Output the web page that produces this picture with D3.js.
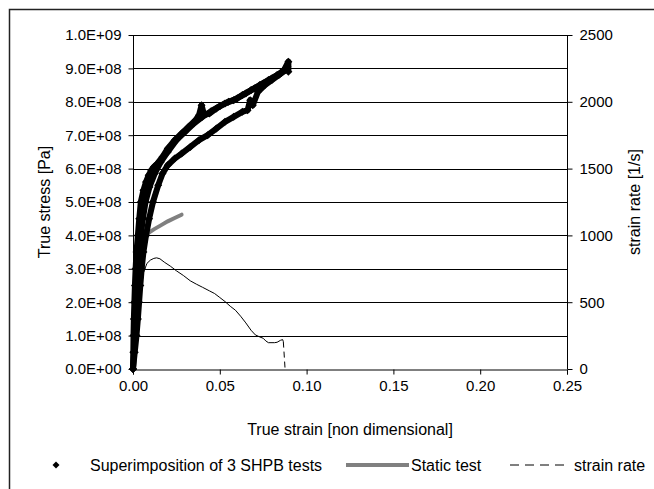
<!DOCTYPE html>
<html><head><meta charset="utf-8">
<script src="https://cdn.jsdelivr.net/npm/d3@7"></script>
<style>body{margin:0;background:#fff}svg{display:block;font-family:"Liberation Sans",Arial,sans-serif}</style>
</head><body><svg id="c" width="654" height="489"></svg>
<script>
// ---------- data ----------
const stressTicks = [0,1e8,2e8,3e8,4e8,5e8,6e8,7e8,8e8,9e8,1e9];
const stressTickLabels = ["0.0E+00","1.0E+08","2.0E+08","3.0E+08","4.0E+08","5.0E+08","6.0E+08","7.0E+08","8.0E+08","9.0E+08","1.0E+09"];
const rateTicks = [0,500,1000,1500,2000,2500];
const rateTickLabels = ["0","500","1000","1500","2000","2500"];
const strainTicks = [0,0.05,0.10,0.15,0.20,0.25];
const strainTickLabels = ["0.00","0.05","0.10","0.15","0.20","0.25"];

// SHPB test 1 (strain, stress Pa)
const shpb1 = [[0,0],[0.0002,0.5e8],[0.0003,1.0e8],[0.0005,1.5e8],[0.0008,2.0e8],[0.0011,2.5e8],[0.0015,3.0e8],[0.002,3.5e8],[0.0028,4.0e8],[0.0036,4.5e8],[0.0045,5.0e8],[0.006,5.35e8],[0.0075,5.6e8],[0.009,5.8e8],[0.0105,5.95e8],[0.012,6.05e8],[0.014,6.15e8],[0.017,6.35e8],[0.02,6.6e8],[0.024,6.85e8],[0.028,7.05e8],[0.032,7.25e8],[0.036,7.45e8],[0.038,7.6e8],[0.0395,7.9e8],[0.041,7.6e8],[0.044,7.65e8],[0.048,7.8e8],[0.053,7.95e8],[0.058,8.05e8],[0.063,8.2e8],[0.068,8.35e8],[0.073,8.5e8],[0.078,8.65e8],[0.083,8.8e8],[0.087,8.95e8],[0.0895,9.2e8],[0.0895,8.9e8]];
// SHPB test 2
const shpb2 = [[0,0],[0.001,0.5e8],[0.002,1.0e8],[0.0028,1.5e8],[0.0035,2.0e8],[0.0042,2.5e8],[0.005,3.0e8],[0.006,3.5e8],[0.0075,4.0e8],[0.0093,4.5e8],[0.0115,5.0e8],[0.0145,5.5e8],[0.017,5.85e8],[0.02,6.1e8],[0.024,6.3e8],[0.028,6.45e8],[0.033,6.65e8],[0.038,6.85e8],[0.043,7.0e8],[0.048,7.2e8],[0.053,7.4e8],[0.058,7.55e8],[0.063,7.7e8],[0.066,7.75e8],[0.0675,8.05e8],[0.069,7.9e8],[0.072,8.3e8],[0.076,8.5e8],[0.08,8.65e8],[0.084,8.8e8],[0.088,8.95e8]];
// SHPB test 3
const shpb3 = [[0,0],[0.0005,0.5e8],[0.001,1.0e8],[0.0015,1.5e8],[0.002,2.0e8],[0.0025,2.5e8],[0.003,3.0e8],[0.0037,3.5e8],[0.0045,4.0e8],[0.0057,4.5e8],[0.0072,5.0e8],[0.0095,5.45e8],[0.0125,5.85e8],[0.016,6.2e8],[0.02,6.5e8],[0.025,6.85e8],[0.03,7.1e8],[0.035,7.35e8],[0.04,7.55e8],[0.045,7.72e8],[0.05,7.87e8],[0.055,8.0e8],[0.06,8.1e8],[0.065,8.25e8],[0.07,8.4e8],[0.075,8.55e8],[0.08,8.7e8],[0.085,8.85e8],[0.089,9.05e8]];
// Static test
const staticTest = [[0.004,3.6e8],[0.006,3.9e8],[0.009,4.08e8],[0.012,4.18e8],[0.016,4.3e8],[0.02,4.42e8],[0.024,4.52e8],[0.028,4.62e8]];
// Strain rate (strain, 1/s)
const strainRate = [[0,0],[0.002,250],[0.004,520],[0.006,720],[0.008,790],[0.01,815],[0.012,828],[0.0136,832],[0.0155,825],[0.018,800],[0.0215,770],[0.025,735],[0.029,700],[0.033,660],[0.0365,635],[0.04,612],[0.044,585],[0.047,565],[0.05,535],[0.053,505],[0.056,470],[0.059,440],[0.062,395],[0.065,345],[0.068,290],[0.0705,255],[0.073,240],[0.075,230],[0.0765,210],[0.078,197],[0.0815,197],[0.083,200],[0.085,215],[0.0862,220],[0.0866,205],[0.0876,0]];

const legendLabels = ["Superimposition of 3 SHPB tests","Static test","strain rate"];

// ---------- drawing ----------
const FONT = "'Liberation Sans', Arial, sans-serif";
const svg = d3.select("#c");
svg.append("rect").attr("width",654).attr("height",489).attr("fill","#fff");
svg.append("rect").attr("x",9.5).attr("y",9.5).attr("width",700).attr("height",600)
  .attr("fill","none").attr("stroke","#222").attr("stroke-width",1.5);

const L=133, R=567, T=35, B=369;
const x = d3.scaleLinear().domain([0,0.25]).range([L,R]);
const y = d3.scaleLinear().domain([0,1e9]).range([B,T]);
const y2 = d3.scaleLinear().domain([0,2500]).range([B,T]);

// gridlines
svg.append("g").selectAll("line").data(stressTicks.slice(1)).join("line")
  .attr("x1",L).attr("x2",R).attr("y1",d=>Math.round(y(d))+0.5).attr("y2",d=>Math.round(y(d))+0.5)
  .attr("stroke","#000").attr("stroke-width",1);

const fs = 15, fsT = 16;
const ax = svg.append("g").attr("transform",`translate(${L+0.5},0)`)
  .call(d3.axisLeft(y).tickValues(stressTicks).tickFormat((d,i)=>stressTickLabels[i]).tickSize(5).tickPadding(7));
const ax2 = svg.append("g").attr("transform",`translate(${R+0.5},0)`)
  .call(d3.axisRight(y2).tickValues(rateTicks).tickFormat((d,i)=>rateTickLabels[i]).tickSize(5).tickPadding(7));
const axb = svg.append("g").attr("transform",`translate(0,${B+0.5})`)
  .call(d3.axisBottom(x).tickValues(strainTicks).tickFormat((d,i)=>strainTickLabels[i]).tickSize(5).tickPadding(6));
[ax,ax2,axb].forEach(g=>{
  g.attr("font-family",FONT).attr("font-size",fs);
  g.select(".domain").attr("stroke","#000");
  g.selectAll(".tick line").attr("stroke","#000");
  g.selectAll("text").attr("fill","#000");
});
ax.select(".domain").attr("d",`M0,${T}V${B}`);
ax2.select(".domain").attr("d",`M0,${T}V${B}`);

// static test
svg.append("path").datum(staticTest)
  .attr("d",d3.line().x(d=>x(d[0])).y(d=>y(d[1])))
  .attr("fill","none").attr("stroke","#808080").attr("stroke-width",4).attr("stroke-linecap","round");

// SHPB series
const diamond = r => `M0,${-r}L${r},0L0,${r}L${-r},0Z`;
[shpb1,shpb2,shpb3].forEach(s=>{
  svg.append("path").datum(s)
    .attr("d",d3.line().x(d=>x(d[0])).y(d=>y(d[1])))
    .attr("fill","none").attr("stroke","#000").attr("stroke-width",6).attr("stroke-linejoin","round");
  svg.append("g").selectAll("path").data(s).join("path")
    .attr("transform",d=>`translate(${x(d[0])},${y(d[1])})`)
    .attr("d",diamond(4)).attr("fill","#000");
});

// strain rate - each segment dashed independently (long segments show dashes)
const segs = d3.pairs(strainRate);
svg.append("g").selectAll("line").data(segs).join("line")
  .attr("x1",d=>x(d[0][0])).attr("y1",d=>y2(d[0][1]))
  .attr("x2",d=>x(d[1][0])).attr("y2",d=>y2(d[1][1]))
  .attr("stroke","#000").attr("stroke-width",1)
  .attr("stroke-dasharray",d=>{const l=Math.hypot(x(d[1][0])-x(d[0][0]),y2(d[1][1])-y2(d[0][1]));return l>20?"6,4":null;});

// axis titles
const tg = svg.append("g").attr("font-family",FONT).attr("font-size",fsT).attr("fill","#000");
tg.append("text").attr("transform",`translate(50,${(T+B)/2}) rotate(-90)`)
  .attr("text-anchor","middle").text("True stress [Pa]");
tg.append("text").attr("transform",`translate(640,${(T+B)/2}) rotate(-90)`)
  .attr("text-anchor","middle").text("strain rate [1/s]");
tg.append("text").attr("x",(L+R)/2).attr("y",435)
  .attr("text-anchor","middle").text("True strain [non dimensional]");

// legend
const ly = 465;
tg.append("path").attr("transform",`translate(56,${ly})`).attr("d",diamond(3.5)).attr("fill","#000");
tg.append("text").attr("x",90).attr("y",ly+6).text(legendLabels[0]);
tg.append("line").attr("x1",346).attr("x2",409).attr("y1",ly).attr("y2",ly).attr("stroke","#808080").attr("stroke-width",4);
tg.append("text").attr("x",411).attr("y",ly+6).text(legendLabels[1]);
tg.append("line").attr("x1",510).attr("x2",564).attr("y1",ly).attr("y2",ly).attr("stroke","#000").attr("stroke-width",1).attr("stroke-dasharray","9,6");
tg.append("text").attr("x",574).attr("y",ly+6).text(legendLabels[2]);
</script></body></html>
